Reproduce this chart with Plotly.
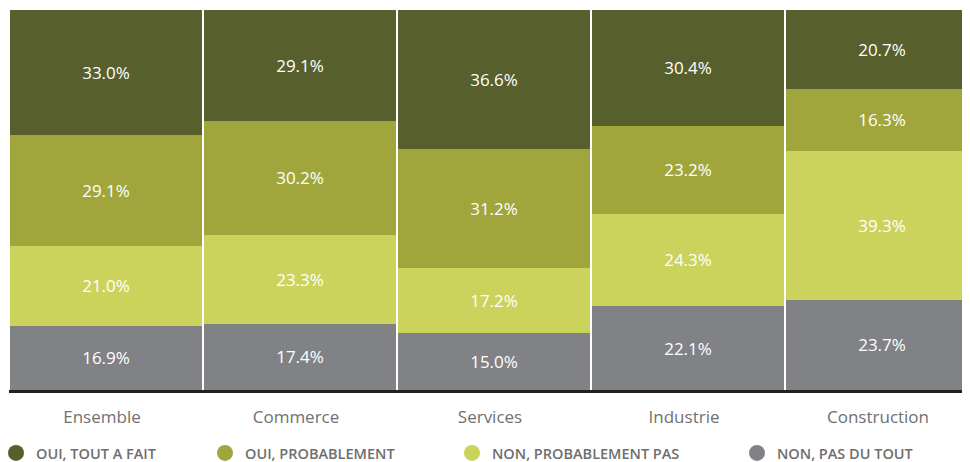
import plotly.graph_objects as go

categories = ["Ensemble", "Commerce", "Services", "Industrie", "Construction"]
series_names = ["OUI, TOUT A FAIT", "OUI, PROBABLEMENT", "NON, PROBABLEMENT PAS", "NON, PAS DU TOUT"]
pas_du_tout = [16.9, 17.4, 15.0, 22.1, 23.7]
prob_pas = [21.0, 23.3, 17.2, 24.3, 39.3]
probablement = [29.1, 30.2, 31.2, 23.2, 16.3]
tout_a_fait = [33.0, 29.1, 36.6, 30.4, 20.7]

colors = {
    "OUI, TOUT A FAIT": "#575F2D",
    "OUI, PROBABLEMENT": "#A0A63C",
    "NON, PROBABLEMENT PAS": "#CBD35C",
    "NON, PAS DU TOUT": "#818286",
}

# stack order bottom -> top
stack = [
    ("NON, PAS DU TOUT", pas_du_tout),
    ("NON, PROBABLEMENT PAS", prob_pas),
    ("OUI, PROBABLEMENT", probablement),
    ("OUI, TOUT A FAIT", tout_a_fait),
]

fig = go.Figure()
for name, vals in stack:
    fig.add_trace(go.Bar(
        x=categories, y=vals, name=name,
        marker=dict(color=colors[name], line=dict(width=0)),
        texttemplate="%{y:.1f}%", textposition="inside",
        insidetextanchor="middle", textangle=0,
        textfont=dict(color="white", size=17, family="Open Sans"),
        showlegend=False, hoverinfo="skip",
    ))

# page body adds an 8px offset; layout numbers below are in figure pixels
OFF = 8
legend_ids = ["legend", "legend2", "legend3", "legend4"]
legend_x_px = [9, 218, 465, 750]
legend_y_px = [453, 453, 453, 453]
W, H = 970, 462
ml, mr, mt, mb = 1, 0, 2, 80
pw, ph = W - ml - mr, H - mt - mb

for name, lid in zip(series_names, legend_ids):
    fig.add_trace(go.Scatter(
        x=[None], y=[None], mode="markers", name=name,
        marker=dict(color=colors[name], size=17, symbol="circle"),
        legend=lid, showlegend=True,
    ))

layout_legends = {}
for lid, xp, yp in zip(legend_ids, legend_x_px, legend_y_px):
    layout_legends[lid] = dict(
        x=(xp - OFF - 13 - ml) / pw, xanchor="left",
        y=(H - mb - (yp - OFF)) / ph, yanchor="middle",
        orientation="h", bgcolor="rgba(0,0,0,0)",
        font=dict(family="Open Sans", size=14.5, color="#6e6e6e", weight=600),
        itemwidth=30,
    )

slot = 194.0
fig.update_layout(
    width=W, height=H,
    margin=dict(l=ml, r=mr, t=mt, b=mb, autoexpand=False),
    barmode="stack", bargap=2 / slot,
    plot_bgcolor="white", paper_bgcolor="white",
    xaxis=dict(
        range=[-0.5, -0.5 + pw / slot], showgrid=False,
        showline=True, linewidth=3, linecolor="#222222",
        ticks="", tickfont=dict(family="Open Sans", size=17, color="#707070"),
        ticklabelshift=-4, ticklabelstandoff=10,
    ),
    yaxis=dict(range=[0, 100], visible=False),
    **layout_legends,
)

fig.write_html("out.html")
